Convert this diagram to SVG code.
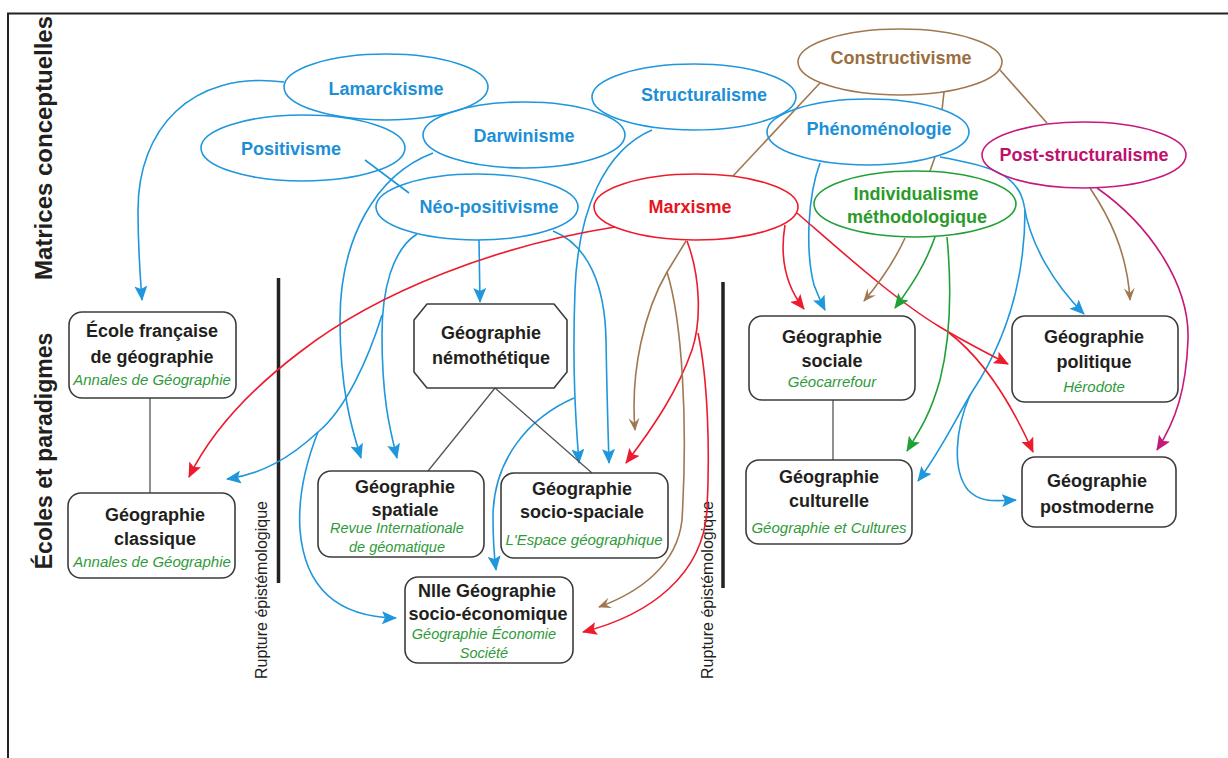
<svg xmlns="http://www.w3.org/2000/svg" width="1228" height="758" viewBox="0 0 1228 758">
<style>
text{font-family:"Liberation Sans",Arial,sans-serif}
.ell{fill:none;stroke-width:1.6}
.bl{stroke:#1f97dc}.rd{stroke:#ec1c2e}.br{stroke:#a07850}.mg{stroke:#c61a7b}.gr{stroke:#22a038}
.et{font-size:18px;font-weight:bold;text-anchor:middle}
.tbl{fill:#1d8fd6}.trd{fill:#e8141e}.tbr{fill:#9a6e3f}.tmg{fill:#c0106e}.tgr{fill:#2a9a2a}
.box{fill:#fff;stroke:#3c3c3c;stroke-width:1.6}
.bt{font-size:18px;font-weight:bold;text-anchor:middle;fill:#231f20}
.it{font-size:15px;font-style:italic;text-anchor:middle;fill:#2f9a3a}
.c{fill:none;stroke-width:1.6}
.g{fill:none;stroke:#555;stroke-width:1.3}
.side{font-size:24px;font-weight:bold;text-anchor:middle;fill:#231f20}
.rup{font-size:16px;text-anchor:middle;fill:#231f20}
.bar{stroke:#222;stroke-width:3.5}
</style>
<defs>
<marker id="ab" viewBox="0 0 15 13" refX="14" refY="6.5" markerWidth="15" markerHeight="13" markerUnits="userSpaceOnUse" orient="auto"><path d="M0,0 L15,6.5 L0,13 L3,6.5 z" fill="#1f97dc"/></marker>
<marker id="ar" viewBox="0 0 15 13" refX="14" refY="6.5" markerWidth="15" markerHeight="13" markerUnits="userSpaceOnUse" orient="auto"><path d="M0,0 L15,6.5 L0,13 L3,6.5 z" fill="#ec1c2e"/></marker>
<marker id="abr" viewBox="0 0 13 11" refX="12" refY="5.5" markerWidth="13" markerHeight="11" markerUnits="userSpaceOnUse" orient="auto"><path d="M0,0 L13,5.5 L0,11 L5,5.5 z" fill="#a07850"/></marker>
<marker id="amg" viewBox="0 0 15 13" refX="14" refY="6.5" markerWidth="15" markerHeight="13" markerUnits="userSpaceOnUse" orient="auto"><path d="M0,0 L15,6.5 L0,13 L3,6.5 z" fill="#c61a7b"/></marker>
<marker id="agr" viewBox="0 0 15 13" refX="14" refY="6.5" markerWidth="15" markerHeight="13" markerUnits="userSpaceOnUse" orient="auto"><path d="M0,0 L15,6.5 L0,13 L3,6.5 z" fill="#22a038"/></marker>
</defs>
<rect width="1228" height="758" fill="#fff"/>
<g id="frame" stroke="#222" stroke-width="2" fill="none">
<path d="M8,758 L8,13.5 L1228,13.5"/>
</g>
<g id="labels">
<text class="side" transform="translate(52,148) rotate(-90)">Matrices conceptuelles</text>
<text class="side" transform="translate(52,451) rotate(-90)" style="font-size:23px">Écoles et paradigmes</text>
<text class="rup" transform="translate(267,590) rotate(-90)">Rupture épistémologique</text>
<text class="rup" transform="translate(713,590) rotate(-90)">Rupture épistémologique</text>
<line class="bar" x1="278.5" y1="278" x2="278.5" y2="583"/>
<line class="bar" x1="723" y1="282" x2="723" y2="588"/>
</g>
<g id="connectors">
<!-- blue -->
<path class="c bl" d="M284,82 C190,70 138,130 138,210 C138,250 140,275 142,300" marker-end="url(#ab)"/>
<path class="c bl" d="M365,160 L409,193"/>
<path class="c bl" d="M433,153 C375,175 340,240 340,320 C340,390 352,430 361,458" marker-end="url(#ab)"/>
<path class="c bl" d="M417,234 C392,250 382,290 382,335 C382,400 390,430 397,458" marker-end="url(#ab)"/>
<path class="c bl" d="M479,240 L480,302" marker-end="url(#ab)"/>
<path class="c bl" d="M553,231 C588,245 605,285 606,340 C607,400 608,430 609,463" marker-end="url(#ab)"/>
<path class="c bl" d="M652,130 C605,150 578,210 575,290 C572,370 576,425 579,463" marker-end="url(#ab)"/>
<path class="c bl" d="M574,398 C528,418 494,460 493,515 C493,540 494,555 496,570" marker-end="url(#ab)"/>
<path class="c bl" d="M382,315 C368,360 345,410 318,432 C290,458 262,474 227,479" marker-end="url(#ab)"/>
<path class="c bl" d="M318,432 C305,465 298,500 300,530 C305,590 340,617 396,618" marker-end="url(#ab)"/>
<path class="c bl" d="M820,163 C808,195 805,250 814,285 C817,293 820,300 825,310" marker-end="url(#ab)"/>
<path class="c bl" d="M940,157 C985,165 1018,172 1024,205 C1030,245 1055,285 1084,314" marker-end="url(#ab)"/>
<path class="c bl" d="M1025,210 C1025,290 1000,350 972,392 C955,420 940,452 918,481" marker-end="url(#ab)"/>
<path class="c bl" d="M970,395 C955,430 952,470 968,490 C980,503 995,501 1016,500" marker-end="url(#ab)"/>
<!-- red -->
<path class="c rd" d="M615,227 C500,245 380,290 300,352 C250,390 212,430 189,477" marker-end="url(#ar)"/>
<path class="c rd" d="M687,241 C700,275 702,320 692,350 C678,390 655,425 626,463" marker-end="url(#ar)"/>
<path class="c rd" d="M698,333 C708,380 710,450 707,510 C703,575 650,615 583,632" marker-end="url(#ar)"/>
<path class="c rd" d="M785,225 C780,255 785,285 804,309" marker-end="url(#ar)"/>
<path class="c rd" d="M797,213 C840,250 895,300 940,327 C965,342 985,352 1008,364" marker-end="url(#ar)"/>
<path class="c rd" d="M948,332 C985,360 1012,405 1033,452" marker-end="url(#ar)"/>
<!-- brown -->
<path class="c br" d="M820,83 L733,176"/>
<path class="c br" d="M944,92 L942,110"/>
<path class="c br" d="M935,157 L930,171"/>
<path class="c br" d="M1000,70 L1047,123"/>
<path class="c br" d="M1090,188 C1108,215 1127,250 1130,300" marker-end="url(#abr)"/>
<path class="c br" d="M905,238 C895,260 880,282 864,301" marker-end="url(#abr)"/>
<path class="c br" d="M686,241 L667,272 C645,310 630,370 635,430" marker-end="url(#abr)"/>
<path class="c br" d="M667,272 C682,320 688,420 682,520 C677,565 640,592 599,607" marker-end="url(#abr)"/>
<!-- magenta -->
<path class="c mg" d="M1097,188 C1150,225 1190,285 1188,340 C1186,390 1176,420 1157,450" marker-end="url(#amg)"/>
<!-- green -->
<path class="c gr" d="M935,237 C925,265 912,285 895,308" marker-end="url(#agr)"/>
<path class="c gr" d="M947,237 C952,290 950,340 940,380 C930,415 920,430 907,451" marker-end="url(#agr)"/>
<!-- grey links -->
<path class="g" d="M150,398 L150,493"/>
<path class="g" d="M495,388 L428,471 M495,388 L592,473"/>
<path class="g" d="M833,400 L833,460"/>
</g>
<g id="lamarckisme"><ellipse class="ell bl" cx="386" cy="87" rx="102" ry="33"/><text class="et tbl" x="386" y="95">Lamarckisme</text></g>
<g id="positivisme"><ellipse class="ell bl" cx="303" cy="148" rx="102" ry="33"/><text class="et tbl" x="291" y="155">Positivisme</text></g>
<g id="darwinisme"><ellipse class="ell bl" cx="524" cy="135" rx="101" ry="33"/><text class="et tbl" x="524" y="142">Darwinisme</text></g>
<g id="structuralisme"><ellipse class="ell bl" cx="694" cy="97" rx="102" ry="33"/><text class="et tbl" x="704" y="101">Structuralisme</text></g>
<g id="neopositivisme"><ellipse class="ell bl" cx="477" cy="207" rx="101" ry="33"/><text class="et tbl" x="489" y="213">Néo-positivisme</text></g>
<g id="marxisme"><ellipse class="ell rd" cx="696" cy="207" rx="102" ry="33"/><text class="et trd" x="690" y="213">Marxisme</text></g>
<g id="constructivisme"><ellipse class="ell br" cx="900" cy="62" rx="102" ry="33"/><text class="et tbr" x="901" y="64">Constructivisme</text></g>
<g id="phenomenologie"><ellipse class="ell bl" cx="868" cy="132" rx="101" ry="33"/><text class="et tbl" x="879" y="135">Phénoménologie</text></g>
<g id="poststructuralisme"><ellipse class="ell mg" cx="1084" cy="155" rx="102" ry="33"/><text class="et tmg" x="1084" y="161">Post-structuralisme</text></g>
<g id="individualisme"><ellipse class="ell gr" cx="915" cy="204" rx="101" ry="33"/><text class="et tgr" x="916" y="200">Individualisme</text><text class="et tgr" x="917" y="223">méthodologique</text></g>
<g id="ecole-francaise"><rect class="box" x="69" y="312" width="167" height="86" rx="13"/><text class="bt" x="152" y="337">École française</text><text class="bt" x="152" y="363">de géographie</text><text class="it" x="152" y="385">Annales de Géographie</text></g>
<g id="geo-classique"><rect class="box" x="68" y="493" width="167" height="85" rx="13"/><text class="bt" x="155" y="521">Géographie</text><text class="bt" x="155" y="545">classique</text><text class="it" x="152" y="567">Annales de Géographie</text></g>
<g id="geo-nemothetique"><path class="box" stroke-linejoin="round" d="M427,304 L554,304 L567,320 L567,372 L554,388 L427,388 L414,372 L414,320 Z"/><text class="bt" x="491" y="339">Géographie</text><text class="bt" x="491" y="364">némothétique</text></g>
<g id="geo-spatiale"><rect class="box" x="318" y="471" width="166" height="86" rx="13"/><text class="bt" x="405" y="493">Géographie</text><text class="bt" x="405" y="516">spatiale</text><text class="it" x="397" y="533" style="font-size:14.5px">Revue Internationale</text><text class="it" x="397" y="552" style="font-size:14.5px">de géomatique</text></g>
<g id="geo-socio-spaciale"><rect class="box" x="501" y="473" width="167" height="85" rx="13"/><text class="bt" x="582" y="495">Géographie</text><text class="bt" x="582" y="518">socio-spaciale</text><text class="it" x="584" y="545">L'Espace géographique</text></g>
<g id="geo-socio-economique"><rect class="box" x="405" y="577" width="168" height="86" rx="13"/><text class="bt" x="487" y="597">Nlle Géographie</text><text class="bt" x="488" y="620">socio-économique</text><text class="it" x="484" y="639" style="font-size:14.5px">Géographie Économie</text><text class="it" x="484" y="658" style="font-size:14.5px">Société</text></g>
<g id="geo-sociale"><rect class="box" x="749" y="316" width="166" height="84" rx="13"/><text class="bt" x="832" y="343">Géographie</text><text class="bt" x="832" y="367">sociale</text><text class="it" x="832" y="387">Géocarrefour</text></g>
<g id="geo-culturelle"><rect class="box" x="746" y="460" width="166" height="84" rx="13"/><text class="bt" x="829" y="483">Géographie</text><text class="bt" x="829" y="507">culturelle</text><text class="it" x="829" y="533">Géographie et Cultures</text></g>
<g id="geo-politique"><rect class="box" x="1012" y="316" width="166" height="86" rx="13"/><text class="bt" x="1094" y="343">Géographie</text><text class="bt" x="1094" y="368">politique</text><text class="it" x="1094" y="392">Hérodote</text></g>
<g id="geo-postmoderne"><rect class="box" x="1022" y="457" width="154" height="70" rx="13"/><text class="bt" x="1097" y="487">Géographie</text><text class="bt" x="1097" y="513">postmoderne</text></g>
</svg>
